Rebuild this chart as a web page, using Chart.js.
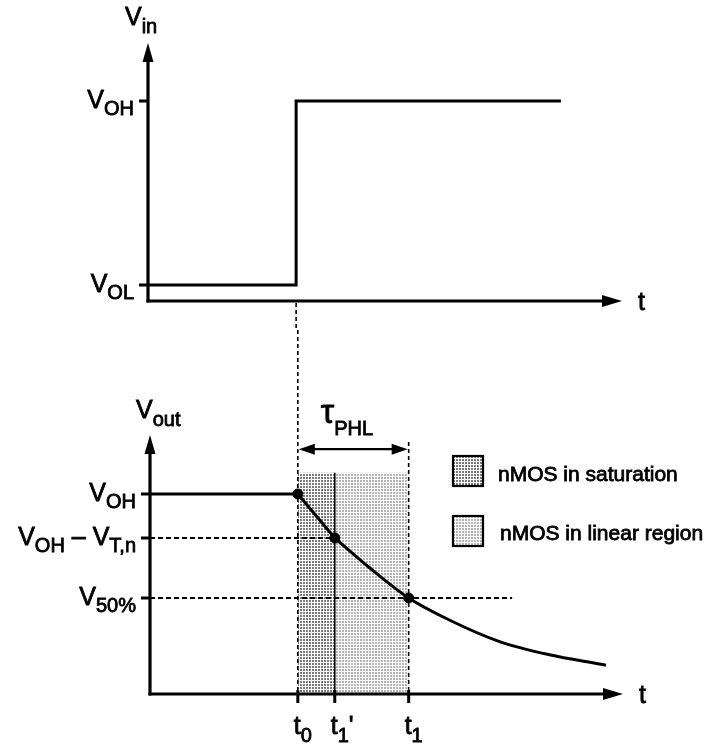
<!DOCTYPE html>
<html>
<head>
<meta charset="utf-8">
<script src="https://cdn.jsdelivr.net/npm/chart.js@4"></script>
<style>
  html, body { margin: 0; padding: 0; background: #fff; }
  #wrap { position: relative; width: 705px; height: 746px; }
  canvas { position: absolute; left: 0; }
  #vin { top: 0; }
  #vout { top: 330px; }
</style>
</head>
<body>
<div id="wrap">
  <canvas id="vin" width="705" height="330"></canvas>
  <canvas id="vout" width="705" height="416"></canvas>
</div>
<script>
// input step (time units, volts)
const vinT = [0, 4, 4, 11.15]
const vinV = [0.4, 0.4, 5, 5]
const vinTickValues = [5, 0.4]
const vinTickLabels = ["V_{OH}", "V_{OL}"]

// output response
const holdT = [0, 4]
const holdV = [5, 5]
const satCurveT = [4, 5]
const satCurveV = [5, 3.9]
const linCurveT = [5, 5.95, 7, 8.1, 9.46, 10.81, 12.16, 12.34]
const linCurveV = [3.9, 3.15, 2.4, 1.85, 1.31, 0.98, 0.75, 0.72]
const markT = [4, 5, 7]
const markV = [5, 3.9, 2.4]
const voutTickValues = [5, 3.9, 2.4]
const voutTickLabels = ["V_{OH}", "V_{OH} \u2013 V_{T,n}", "V_{50%}"]
const timeTickValues = [4, 5, 7]
const timeTickLabels = ["t_{0}", "t_{1}'", "t_{1}"]

// shaded regions (start, end, top)
const satRegion = [4, 5]
const linRegion = [5, 7]
const regionTop = 5.53
// dashed guides: level and where they stop
const guideLevels = [3.9, 2.4]
const guideEnds = [5, 9.8]
const t1GuideTop = 6.3
const tauLevel = 6.12
const legendLabels = ["nMOS in saturation", "nMOS in linear region"]

const T_MAX = 12.8
const FONT = '"Liberation Sans", Arial, sans-serif'

function makePattern(color, period, dot) {
  const c = document.createElement("canvas")
  c.width = period; c.height = period
  const g = c.getContext("2d")
  g.fillStyle = color
  g.fillRect(0, 0, dot, dot)
  return g.createPattern(c, "repeat")
}
const satFill = makePattern("#7a7a7a", 3, 2)
const linFill = makePattern("#b4b4b4", 3, 2)

const pts = (xs, ys) => xs.map((x, i) => ({ x, y: ys[i] }))

// text with _{...} subscripts, slightly emboldened like the scanned original
function richText(ctx, str, x, y, align, size, subSize, drop) {
  const parts = str.split(/(_\{[^}]*\})/).filter(s => s.length)
  subSize = subSize || Math.round(size * 0.8)
  drop = drop || size * 0.32
  const segs = parts.map(p => p.startsWith("_{")
    ? { t: p.slice(2, -1), sub: true }
    : { t: p, sub: false })
  let w = 0
  segs.forEach(s => {
    ctx.font = `${s.sub ? subSize : size}px ${FONT}`
    s.w = ctx.measureText(s.t).width
    w += s.w
  })
  let cx = align === "right" ? x - w : align === "center" ? x - w / 2 : x
  ctx.save()
  ctx.fillStyle = "#000"
  ctx.strokeStyle = "#000"
  ctx.lineWidth = 0.8
  ctx.textAlign = "left"
  ctx.textBaseline = "alphabetic"
  segs.forEach(s => {
    ctx.font = `${s.sub ? subSize : size}px ${FONT}`
    const yy = s.sub ? y + drop : y
    ctx.fillText(s.t, cx, yy)
    ctx.strokeText(s.t, cx, yy)
    cx += s.w
  })
  ctx.restore()
}

function line(ctx, x1, y1, x2, y2, width, dash) {
  ctx.save()
  ctx.strokeStyle = "#000"
  ctx.lineWidth = width
  ctx.setLineDash(dash || [])
  ctx.beginPath()
  ctx.moveTo(x1, y1)
  ctx.lineTo(x2, y2)
  ctx.stroke()
  ctx.restore()
}

// arrow head pointing in direction (dx, dy)
function head(ctx, x, y, dx, dy, len, half) {
  ctx.save()
  ctx.fillStyle = "#000"
  ctx.beginPath()
  ctx.moveTo(x, y)
  ctx.lineTo(x - dx * len - dy * half, y - dy * len + dx * half)
  ctx.lineTo(x - dx * len + dy * half, y - dy * len - dx * half)
  ctx.closePath()
  ctx.fill()
  ctx.restore()
}

function drawAxes(chart, tickValues, tickLabels, yName, nameX, nameY) {
  const { ctx, chartArea: a, scales: { x, y } } = chart
  const ax = x.getPixelForValue(0)
  const ay = y.getPixelForValue(0)
  line(ctx, ax, ay + 1.5, ax, a.top + 16, 3.2)
  head(ctx, ax, a.top, 0, -1, 19, 5.5)
  line(ctx, ax - 1.5, ay, a.right - 16, ay, 3.2)
  head(ctx, a.right, ay, 1, 0, 20, 6)
  tickValues.forEach((v, i) => {
    const py = y.getPixelForValue(v)
    line(ctx, ax - 9, py, ax + 1, py, 3)
    richText(ctx, tickLabels[i], ax - 14, py + 7, "right", 25, 20, 7)
  })
  richText(ctx, yName, ax + nameX, nameY, "left", 25, 20, 8)
  richText(ctx, "t", a.right + 16, ay + 9, "left", 25)
}

const vinPlugin = {
  id: "vinDecor",
  afterDatasetsDraw(chart) {
    const { ctx, scales: { x } } = chart
    drawAxes(chart, vinTickValues, vinTickLabels, "V_{in}", -23, 25)
    const px = x.getPixelForValue(timeTickValues[0])
    line(ctx, px, chart.scales.y.getPixelForValue(0) + 2, px, chart.height, 1.6, [4, 3])
  }
}

const voutPlugin = {
  id: "voutDecor",
  afterDatasetsDraw(chart) {
    const { ctx, scales: { x, y } } = chart
    const ay = y.getPixelForValue(0)
    const ax = x.getPixelForValue(0)
    // dashed guides
    guideLevels.forEach((v, i) => {
      const py = y.getPixelForValue(v)
      line(ctx, ax, py, x.getPixelForValue(guideEnds[i]), py, 1.8, [5, 3])
    })
    const p0 = x.getPixelForValue(timeTickValues[0])
    const p1s = x.getPixelForValue(timeTickValues[1])
    const p1 = x.getPixelForValue(timeTickValues[2])
    line(ctx, p0, 0, p0, ay, 1.6, [4, 3])
    line(ctx, p1, y.getPixelForValue(t1GuideTop), p1, ay, 1.6, [4, 3])
    line(ctx, p1s, y.getPixelForValue(regionTop), p1s, ay, 1.6)
    drawAxes(chart, voutTickValues, voutTickLabels, "V_{out}", -14, 88)
    // time ticks
    timeTickValues.forEach((t, i) => {
      const px = x.getPixelForValue(t)
      line(ctx, px, ay - 4, px, ay + 9, 3)
      richText(ctx, timeTickLabels[i], px - 4, ay + 40, "left", 25, 20, 8)
    })
    // tau_PHL
    const ty = y.getPixelForValue(tauLevel)
    line(ctx, p0 + 12, ty, p1 - 12, ty, 2.2)
    head(ctx, p0 + 1, ty, -1, 0, 16, 5.5)
    head(ctx, p1 - 1, ty, 1, 0, 16, 5.5)
    richText(ctx, "\u03c4_{PHL}", p0 + 23, 93, "left", 34, 20, 12)
    // legend
    const fills = [satFill, linFill]
    legendLabels.forEach((lab, i) => {
      const by = 126 + i * 60
      ctx.save()
      ctx.fillStyle = "#fff"
      ctx.fillRect(453, by, 30, 30)
      ctx.fillStyle = fills[i]
      ctx.fillRect(453, by, 30, 30)
      ctx.lineWidth = 2.2
      ctx.strokeStyle = "#000"
      ctx.strokeRect(453, by, 30, 30)
      ctx.restore()
      richText(ctx, lab, 498 + i * 2, by + 25 - i * 1, "left", 21)
    })
  }
}

const baseOpts = (pad, yMax) => ({
  responsive: false,
  animation: false,
  events: [],
  layout: { padding: pad },
  plugins: { legend: { display: false }, tooltip: { enabled: false } },
  scales: {
    x: { type: "linear", min: 0, max: T_MAX, display: false },
    y: { type: "linear", min: 0, max: yMax, display: false }
  },
  elements: { point: { radius: 0 } }
})

new Chart(document.getElementById("vin"), {
  type: "line",
  data: {
    datasets: [{
      data: pts(vinT, vinV), borderColor: "#000", borderWidth: 3,
      tension: 0, clip: false
    }]
  },
  options: baseOpts({ left: 148, right: 83, top: 43, bottom: 29 }, 6.45),
  plugins: [vinPlugin]
})

new Chart(document.getElementById("vout"), {
  type: "line",
  data: {
    datasets: [
      { data: pts(satRegion, [regionTop, regionTop]), borderWidth: 0,
        backgroundColor: satFill, fill: "origin", order: 5 },
      { data: pts(linRegion, [regionTop, regionTop]), borderWidth: 0,
        backgroundColor: linFill, fill: "origin", order: 4 },
      { data: pts(holdT, holdV), borderColor: "#000", borderWidth: 3, order: 3 },
      { data: pts(satCurveT, satCurveV), borderColor: "#000", borderWidth: 3, order: 2 },
      { data: pts(linCurveT, linCurveV), borderColor: "#000", borderWidth: 3,
        cubicInterpolationMode: "monotone", order: 1 },
      { data: pts(markT, markV), showLine: false, pointRadius: 5,
        pointBackgroundColor: "#000", pointBorderColor: "#000", order: 0 }
    ]
  },
  options: baseOpts({ left: 150, right: 82, top: 105, bottom: 52 }, 6.475),
  plugins: [voutPlugin]
})
</script>
</body>
</html>
